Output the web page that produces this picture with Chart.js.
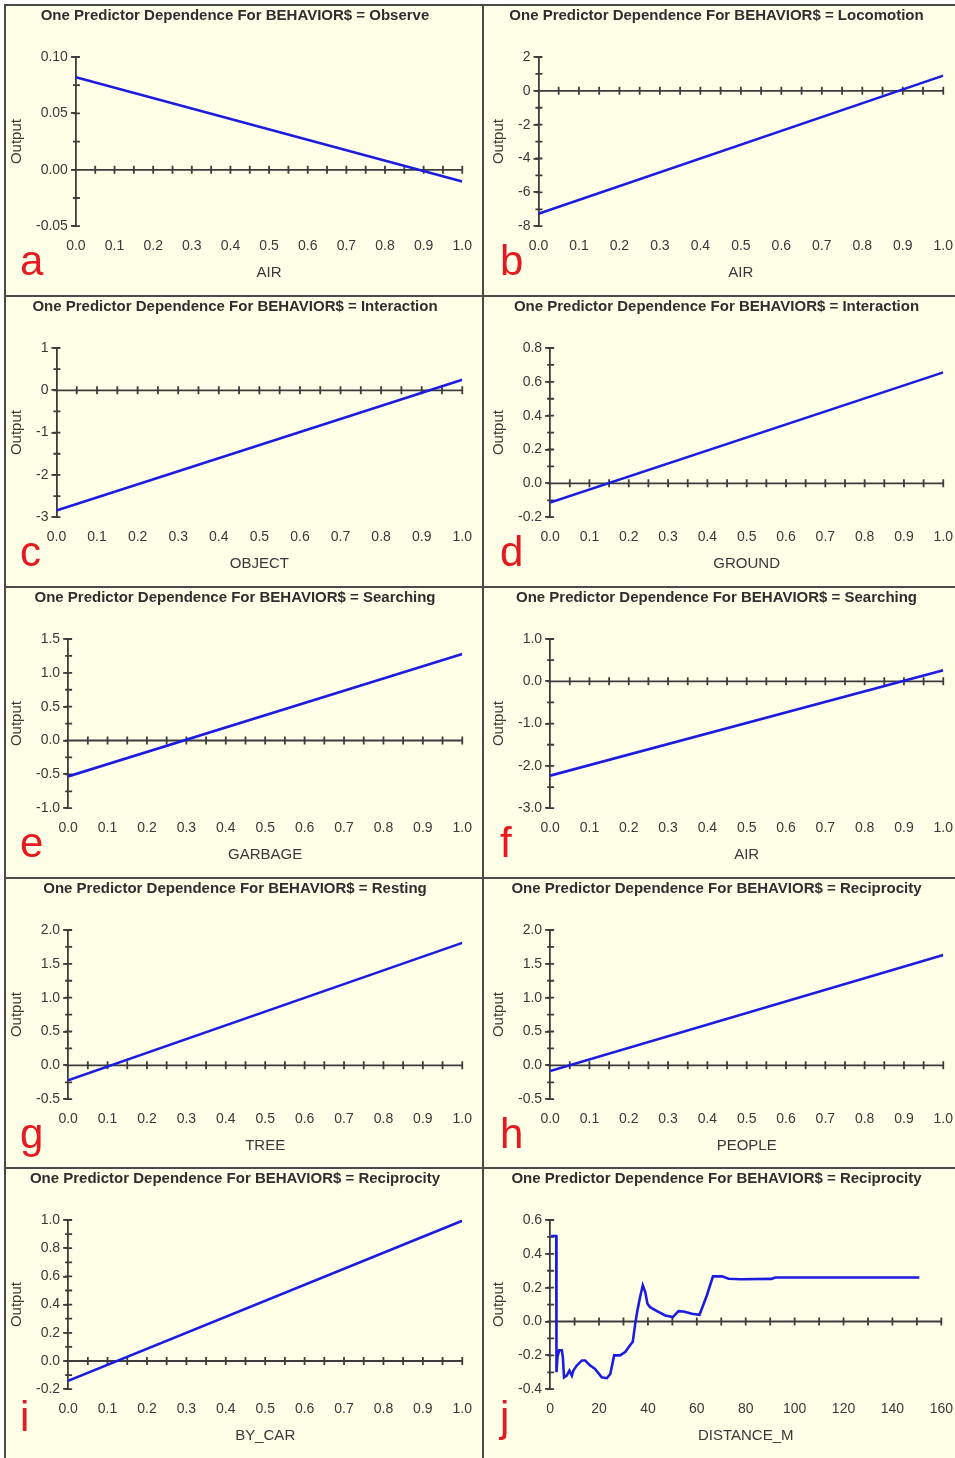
<!DOCTYPE html>
<html>
<head>
<meta charset="utf-8">
<title>One Predictor Dependence</title>
<script src="https://cdn.jsdelivr.net/npm/chart.js@4.4.1/dist/chart.umd.min.js"></script>
<style>
  html, body { margin: 0; padding: 0; background: #fff; overflow: hidden; width: 955px; height: 1458px; }
  .panel { position: absolute; box-sizing: border-box; height: 291px; border-top: 2px solid #4a4a4a; border-left: 2px solid #4a4a4a; background: #ffffe8; overflow: hidden; }
  .panel canvas { display: block; }
  .letter { position: absolute; font: 42px/42px 'Liberation Sans', Arial, sans-serif; color: #e5191e; }
</style>
</head>
<body>
<div id="root"></div>
<script>
// panel data
const panelLetters = ['a', 'b', 'c', 'd', 'e', 'f', 'g', 'h', 'i', 'j'];
const behaviors = ['Observe', 'Locomotion', 'Interaction', 'Interaction', 'Searching', 'Searching', 'Resting', 'Reciprocity', 'Reciprocity', 'Reciprocity'];
const predictors = ['AIR', 'AIR', 'OBJECT', 'GROUND', 'GARBAGE', 'AIR', 'TREE', 'PEOPLE', 'BY_CAR', 'DISTANCE_M'];

const yMin = [-0.05, -8, -3, -0.2, -1.0, -3.0, -0.5, -0.5, -0.2, -0.4];
const yMax = [0.10, 2, 1, 0.8, 1.5, 1.0, 2.0, 2.0, 1.0, 0.6];
const yStep = [0.05, 2, 1, 0.2, 0.5, 1.0, 0.5, 0.5, 0.2, 0.2];
const yMinor = [0.025, 1, 0.5, 0.1, 0.25, 0.5, 0.25, 0.25, 0.1, 0.1];
const yDecimals = [2, 0, 0, 1, 1, 1, 1, 1, 1, 1];

const xMax = [1, 1, 1, 1, 1, 1, 1, 1, 1, 160];
const xStep = [0.1, 0.1, 0.1, 0.1, 0.1, 0.1, 0.1, 0.1, 0.1, 20];
const xMinor = [0.05, 0.05, 0.05, 0.05, 0.05, 0.05, 0.05, 0.05, 0.05, 10];
const xDecimals = [1, 1, 1, 1, 1, 1, 1, 1, 1, 0];

// straight-line panels a..i: output at predictor = 0 and = 1
const outputAtZero = [0.082, -7.27, -2.84, -0.113, -0.53, -2.23, -0.22, -0.085, -0.14];
const outputAtOne = [-0.0104, 0.9, 0.25, 0.656, 1.28, 0.26, 1.81, 1.63, 0.995];

// panel j
const distanceX = [0.4, 2.5, 2.6, 3.0, 3.7, 4.8, 5.2, 5.7, 6.8, 7.9, 8.9, 9.5, 10.9, 13.0, 14.3, 16.4, 18.4, 21.1, 23.2, 24.6,
  26.2, 28.6, 30.7, 32.7, 33.8, 34.8, 35.7, 36.8, 37.9, 38.9, 39.8, 40.9, 43.7, 47.1, 50.2, 52.5, 54.6, 58.0, 61.1, 64.1,
  66.6, 70.3, 73.0, 77.8, 90.6, 92.0, 151.0];
const distanceOutput = [0.505, 0.505, -0.30, -0.21, -0.17, -0.17, -0.21, -0.33, -0.32, -0.29, -0.32, -0.29, -0.26, -0.23, -0.23, -0.26, -0.28, -0.33, -0.335, -0.31,
  -0.20, -0.20, -0.18, -0.14, -0.12, -0.014, 0.065, 0.145, 0.214, 0.174, 0.105, 0.085, 0.061, 0.036, 0.026, 0.061, 0.059, 0.046, 0.040, 0.154,
  0.267, 0.267, 0.253, 0.25, 0.252, 0.26, 0.26];

// page layout
const colLeft = [4, 482];
const colWidth = [478, 473];
const canvasWidth = [478, 481];
const rowTop = [4, 295, 586, 877, 1167];

const AXIS = '#3c3c3c';
const TEXT = '#383838';
Chart.defaults.font.family = "'Liberation Sans', Arial, sans-serif";

const fmt = (v, d) => (Math.abs(v) < 1e-9 ? 0 : v).toFixed(d);

// zero line with cross ticks + minor ticks on the y axis
const axisMarks = {
  id: 'axisMarks',
  beforeDatasetsDraw(chart, args, opts) {
    const { ctx, chartArea, scales: { x, y } } = chart;
    const y0 = y.getPixelForValue(0);
    const left = chartArea.left;
    ctx.save();
    ctx.strokeStyle = AXIS;
    ctx.lineWidth = 1.8;
    ctx.beginPath();
    ctx.moveTo(chartArea.left, y0);
    ctx.lineTo(chartArea.right, y0);
    const nx = Math.round((x.max - x.min) / opts.xMinor);
    for (let k = 1; k <= nx; k++) {
      const px = x.getPixelForValue(x.min + k * opts.xMinor);
      ctx.moveTo(px, y0 - 4);
      ctx.lineTo(px, y0 + 4);
    }
    const ny = Math.round((y.max - y.min) / opts.yMinor);
    for (let k = 0; k <= ny; k++) {
      const py = y.getPixelForValue(y.min + k * opts.yMinor);
      ctx.moveTo(left - 3, py);
      ctx.lineTo(left + 4, py);
    }
    ctx.stroke();
    ctx.restore();
  }
};

const root = document.getElementById('root');

panelLetters.forEach((letter, i) => {
  const col = i % 2;
  const row = Math.floor(i / 2);

  const panel = document.createElement('div');
  panel.className = 'panel';
  panel.style.left = colLeft[col] + 'px';
  panel.style.top = rowTop[row] + 'px';
  panel.style.width = colWidth[col] + 'px';
  const canvas = document.createElement('canvas');
  canvas.width = canvasWidth[col];
  canvas.height = 289;
  panel.appendChild(canvas);
  const tag = document.createElement('div');
  tag.className = 'letter';
  tag.textContent = letter;
  tag.style.left = (col ? 16 : 14) + 'px';
  tag.style.top = (row === 4 ? 227 : 234) + 'px';
  panel.appendChild(tag);
  root.appendChild(panel);

  let points;
  if (i < 9) {
    points = [{ x: 0, y: outputAtZero[i] }, { x: 1, y: outputAtOne[i] }];
  } else {
    points = distanceX.map((d, k) => ({ x: d, y: distanceOutput[k] }));
  }

  new Chart(canvas, {
    type: 'line',
    data: {
      datasets: [{
        data: points,
        borderColor: '#1c1ce0',
        borderWidth: 2.6,
        pointRadius: 0,
        tension: 0,
        fill: false
      }]
    },
    options: {
      responsive: false,
      animation: false,
      devicePixelRatio: 1,
      layout: { padding: { left: col ? 4 : 0, right: 20, top: 0, bottom: 9 } },
      plugins: {
        legend: { display: false },
        tooltip: { enabled: false },
        title: {
          display: true,
          text: 'One Predictor Dependence For BEHAVIOR$ = ' + behaviors[i],
          color: '#2e2e2e',
          font: { size: 15, weight: 'bold' },
          padding: { top: 1, bottom: 32 }
        },
        axisMarks: { xMinor: xMinor[i], yMinor: yMinor[i] }
      },
      scales: {
        x: {
          type: 'linear',
          min: 0,
          max: xMax[i],
          grid: { display: false, drawTicks: false },
          border: { display: false },
          ticks: {
            stepSize: xStep[i],
            autoSkip: false,
            maxRotation: 0,
            padding: 12,
            color: TEXT,
            font: { size: 14 },
            callback: v => fmt(v, xDecimals[i])
          },
          title: {
            display: true,
            text: predictors[i],
            color: TEXT,
            font: { size: 15 },
            padding: { top: -3, bottom: 4 }
          }
        },
        y: {
          min: yMin[i],
          max: yMax[i],
          grid: { drawOnChartArea: false, drawTicks: true, tickLength: 5, color: AXIS, lineWidth: 1.8 },
          border: { color: AXIS, width: 1.8 },
          ticks: {
            stepSize: yStep[i],
            padding: 3,
            color: TEXT,
            font: { size: 14 },
            callback: v => fmt(v, yDecimals[i])
          },
          title: {
            display: true,
            text: 'Output',
            color: TEXT,
            font: { size: 15 },
            padding: { top: 2, bottom: 7 }
          }
        }
      }
    },
    plugins: [axisMarks]
  });
});
</script>
</body>
</html>
